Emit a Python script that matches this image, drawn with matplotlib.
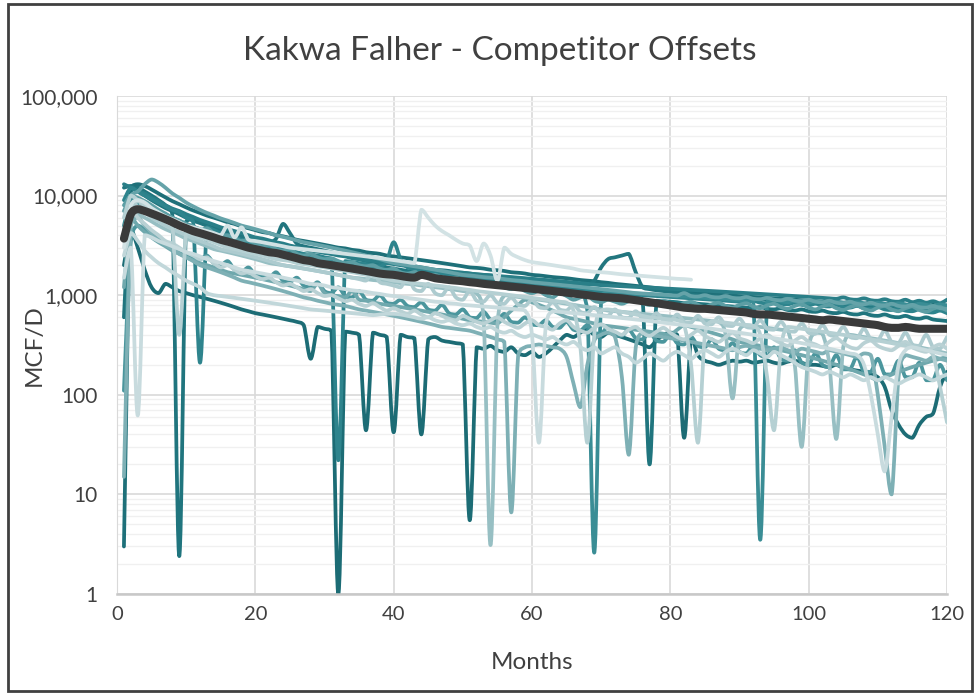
import matplotlib.pyplot as plt
import numpy as np
from matplotlib.ticker import FuncFormatter, LogLocator, MultipleLocator
from matplotlib.patches import Rectangle, PathPatch
from matplotlib.path import Path

# === Monthly gas rates (MCF/D), month 1 onwards ===
well_01 = [3, 12000, 13000, 12500, 11500, 10500, 9600, 8800, 8200, 7600,
           7100, 6700, 6300, 6000, 5700, 5400, 5200, 4900, 4700, 4500,
           4300, 4200, 4000, 3900, 3750, 3600, 3500, 3400, 3300, 3200,
           3100, 3000, 2950, 2850, 2800, 2700, 2650, 2600, 2500, 2450,
           2400, 2350, 2300, 2250, 2200, 2150, 2100, 2050, 2000, 1950,
           1900, 1880, 1850, 1800, 1780, 1750, 1700, 1680, 1650, 1600,
           1580, 1550, 1520, 1500, 1480, 1450, 1420, 1400, 1380, 1350,
           1330, 1300, 1280, 1260, 1240, 1220, 1200, 1180, 1160, 1140,
           1120, 1100, 1080, 1060, 1050, 1040, 1020, 1000, 990, 980,
           970, 960, 950, 940, 930, 920, 910, 900, 890, 880,
           870, 860, 900, 850, 840, 860, 830, 820, 850, 810,
           800, 830, 790, 780, 820, 770, 760, 800, 750, 740]
well_02 = [600, 11000, 12000, 11000, 10000, 9000, 8000, 6500, 2.4, 5500,
           5800, 5400, 5000, 4700, 4500, 4300, 4100, 3900, 3700, 3600,
           3500, 3400, 3300, 3200, 3100, 3000, 2900, 2800, 2750, 2700,
           2600, 2550, 2500, 2400, 2300, 2200, 2100, 2000, 1900, 1850,
           1800, 1750, 1700, 1650, 1600, 1550, 1500, 1480, 1450, 1420,
           1400, 1380, 1350, 1330, 1300, 1280, 1260, 1240, 1220, 1200,
           1180, 1160, 1140, 1120, 1100, 1080, 1060, 1040, 1020, 1000,
           990, 980, 970, 960, 950, 900, 20, 880, 870, 860,
           850, 830, 840, 820, 810, 800, 790, 780, 770, 760,
           750, 740, 760, 730, 720, 740, 710, 700, 720, 690,
           680, 700, 670, 660, 680, 650, 640, 660, 630, 620,
           640, 610, 600, 620, 590, 580, 600, 570, 560, 550]
well_03 = [2000, 4500, 3000, 1800, 1200, 1050, 1300, 1200, 1100, 1050,
           1000, 960, 920, 880, 840, 800, 760, 720, 690, 660,
           640, 620, 600, 580, 560, 540, 500, 230, 480, 460,
           440, 1, 430, 420, 400, 44, 420, 400, 380, 42,
           400, 380, 370, 40, 360, 380, 350, 340, 330, 320,
           5.5, 300, 290, 310, 280, 270, 300, 260, 250, 270,
           240, 260, 300, 350, 400, 380, 420, 450, 400, 380,
           420, 400, 380, 360, 340, 320, 300, 350, 400, 420,
           400, 37, 380, 250, 220, 210, 200, 210, 220, 215,
           220, 210, 215, 220, 210, 205, 215, 220, 210, 200,
           200, 195, 190, 200, 185, 180, 175, 170, 160, 150,
           120, 70, 50, 40, 37, 50, 60, 65, 120, 170]
well_04 = [9000, 12000, 11000, 10000, 9200, 8500, 7800, 7200, 6800, 6000,
           5500, 210, 4800, 4500, 4200, 4000, 3800, 3600, 3400, 3300,
           3200, 3100, 3000, 2900, 2800, 2700, 2600, 2550, 2500, 2400,
           2300, 22, 2200, 2150, 2100, 2050, 2000, 1950, 2200, 3400,
           2300, 1900, 1850, 1800, 1750, 1700, 1650, 1600, 1580, 1550,
           1500, 1480, 1450, 1420, 1400, 1380, 1350, 1330, 1300, 1280,
           1260, 1240, 1220, 1200, 1180, 1160, 1140, 1120, 1100, 1080,
           1060, 1050, 1040, 1030, 1020, 1000, 990, 980, 970, 960,
           950, 940, 930, 920, 910, 900, 890, 880, 870, 860,
           850, 880, 840, 830, 860, 820, 810, 840, 800, 790,
           820, 780, 770, 800, 760, 750, 780, 740, 730, 760,
           720, 710, 740, 700, 690, 720, 680, 670, 700, 660]
well_05 = [5000, 9000, 8500, 8000, 7500, 7000, 6500, 6000, 5600, 5200,
           4900, 4600, 4400, 4200, 4000, 3800, 3600, 3450, 3300, 3150,
           3000, 2900, 2800, 2700, 2600, 2500, 2450, 2350, 2300, 2200,
           2150, 2100, 2050, 2000, 1950, 1900, 1850, 1800, 1750, 1700,
           1650, 1600, 1580, 1550, 1520, 1500, 1480, 1450, 1420, 1400,
           1380, 1360, 1340, 1320, 1300, 1280, 1260, 1240, 1220, 1200,
           1180, 1160, 1140, 1120, 1100, 1080, 1060, 700, 2.6, 900,
           1100, 1080, 1060, 1050, 1040, 1030, 1020, 1010, 1000, 990,
           980, 970, 960, 950, 940, 930, 920, 910, 900, 890,
           880, 870, 3.5, 860, 900, 870, 850, 880, 860, 840,
           870, 850, 830, 860, 840, 820, 850, 830, 810, 840,
           820, 800, 830, 810, 790, 820, 800, 780, 810, 790]
well_06 = [15, 5000, 6000, 5000, 4200, 3600, 3200, 2900, 2600, 2400,
           2200, 2000, 1900, 1800, 1700, 1600, 1500, 1400, 1350, 1300,
           1250, 1200, 1150, 1100, 1050, 1000, 950, 920, 880, 850,
           820, 800, 780, 750, 720, 700, 680, 660, 640, 620,
           600, 580, 560, 540, 520, 500, 480, 470, 460, 450,
           440, 420, 400, 380, 360, 340, 6.6, 250, 300, 310,
           320, 310, 300, 290, 240, 130, 75, 200, 350, 400,
           420, 380, 150, 25, 300, 420, 400, 390, 380, 370,
           360, 350, 340, 330, 320, 310, 300, 290, 280, 300,
           310, 300, 290, 280, 290, 300, 280, 270, 290, 280,
           270, 260, 280, 270, 260, 250, 240, 260, 250, 100,
           30, 10, 150, 250, 240, 230, 220, 240, 230, 220]
well_07 = [1500, 3000, 62, 4000, 3800, 3500, 3300, 3100, 2900, 2700,
           2600, 2450, 2300, 2200, 2100, 2000, 1900, 1800, 1750, 1700,
           1650, 1600, 1550, 1500, 1450, 1400, 1350, 1300, 1280, 1250,
           1200, 1180, 1150, 1120, 1100, 1080, 1050, 1030, 1000, 980,
           960, 940, 920, 900, 880, 860, 850, 830, 820, 800,
           790, 780, 770, 760, 750, 740, 730, 720, 700, 400,
           33, 500, 690, 680, 670, 660, 650, 640, 630, 620,
           610, 600, 590, 580, 570, 560, 550, 540, 530, 520,
           510, 500, 490, 480, 470, 460, 450, 440, 430, 420,
           410, 400, 390, 380, 370, 360, 350, 340, 330, 320,
           310, 300, 290, 280, 270, 260, 250, 200, 100, 40,
           17, 60, 200, 280, 300, 290, 280, 270, 260, 250]
well_08 = [6000, 10000, 9000, 8000, 7000, 6200, 5500, 5000, 400, 4300,
           4000, 3800, 3600, 3400, 3200, 3000, 2900, 2800, 2700, 2600,
           2500, 2400, 2300, 2250, 2200, 2100, 2050, 2000, 1950, 1900,
           1850, 1800, 1750, 1700, 1650, 1600, 1550, 1500, 1450, 1400,
           1380, 1350, 1320, 1300, 1280, 1250, 1230, 1200, 1180, 1150,
           1130, 1100, 1080, 1060, 1040, 1020, 1000, 980, 960, 940,
           920, 900, 880, 860, 840, 700, 300, 33, 400, 700,
           720, 700, 680, 660, 640, 620, 600, 590, 580, 570,
           560, 500, 200, 33, 400, 550, 540, 530, 520, 510,
           500, 490, 400, 150, 44, 300, 480, 470, 460, 450,
           440, 430, 420, 410, 400, 390, 380, 370, 360, 350,
           340, 330, 320, 310, 300, 290, 280, 250, 120, 53]
well_09 = [4000, 7000, 6500, 6000, 5500, 5000, 4600, 4300, 4000, 3700,
           3500, 3300, 3100, 2900, 2800, 2700, 2600, 2500, 2400, 2300,
           2200, 2100, 2050, 2000, 1950, 1900, 1850, 1800, 1750, 1700,
           1650, 1600, 1550, 1500, 1480, 1450, 1420, 1400, 1380, 1350,
           1320, 1300, 1280, 1250, 1230, 1200, 1180, 1150, 1130, 1100,
           1080, 1050, 600, 3.1, 500, 1000, 980, 960, 940, 920,
           900, 880, 860, 840, 820, 800, 780, 760, 740, 720,
           700, 690, 680, 670, 660, 650, 640, 630, 620, 610,
           600, 590, 580, 570, 560, 550, 540, 400, 92, 450,
           500, 490, 480, 470, 460, 450, 440, 200, 30, 300,
           420, 410, 200, 36, 300, 400, 390, 380, 370, 360,
           350, 340, 330, 320, 310, 300, 290, 280, 270, 260]
well_10 = [3000, 8000, 9000, 8500, 7500, 6800, 6200, 5800, 5400, 5000,
           4800, 4600, 4400, 4200, 4000, 5000, 3800, 4800, 3600, 3500,
           3400, 3300, 3200, 3100, 3000, 2950, 2900, 2850, 2800, 2750,
           2700, 2650, 2600, 2550, 2500, 2450, 2400, 2350, 2300, 2250,
           2200, 2150, 2100, 7200, 6000, 5000, 4400, 4000, 3600, 3300,
           3150, 2200, 3300, 2500, 1400, 3000, 2600, 2400, 2250, 2150,
           2100, 2050, 2000, 1950, 1900, 1850, 1780, 1750, 1720, 1700,
           1680, 1650, 1620, 1600, 1580, 1560, 1540, 1520, 1500, 1480,
           1460, 1450, 1430]
well_11 = [12000, 12500, 11000, 10000, 9000, 8200, 7500, 7000, 6500, 6000,
           5600, 5300, 5000, 4700, 4500, 4300, 4100, 3900, 3800, 3650,
           3500, 3400, 3700, 5200, 4200, 3300, 3100, 3000, 2900, 2800,
           2700, 2600, 2500, 2450, 2400, 2300, 2250, 2200, 2150, 2100,
           2050, 2000, 1950, 1900, 1850, 1800, 1780, 1750, 1700, 1680,
           1650, 1620, 1600, 1580, 1550, 1520, 1500, 1480, 1460, 1440,
           1420, 1400, 1380, 1360, 1340, 1320, 1300, 1280, 1400, 1900,
           2300, 2400, 2500, 2600, 1700, 1200, 1150, 1120, 1100, 1080,
           1060, 1040, 1020, 1000, 990, 980, 970, 960, 950, 940,
           930, 920, 910, 900, 890, 880, 870, 860, 850, 840,
           860, 830, 820, 850, 810, 800, 830, 790, 780, 810,
           770, 760, 790, 750, 740, 770, 730, 720, 750, 710]
well_12 = [7000, 10000, 11000, 13000, 14500, 13500, 12000, 10500, 9500, 8500,
           7800, 7200, 6700, 6300, 5900, 5600, 5300, 5000, 4800, 4600,
           4400, 4200, 4000, 3850, 3700, 3550, 3400, 3300, 3200, 3100,
           3000, 2900, 2800, 2700, 2600, 2500, 2400, 2300, 2200, 2100,
           2050, 2000, 1950, 1900, 1850, 1800, 1750, 1700, 1650, 1600,
           1580, 1550, 1520, 1500, 1480, 1450, 1420, 1400, 1380, 1350,
           1330, 1310, 1290, 1270, 1250, 1230, 1210, 1190, 1170, 1150,
           1130, 1110, 1090, 1070, 1050, 1040, 1030, 1020, 1010, 1000,
           990, 1050, 980, 970, 1000, 960, 950, 980, 940, 930,
           960, 920, 910, 940, 900, 890, 920, 880, 870, 900,
           860, 850, 880, 840, 830, 860, 820, 810, 840, 800,
           790, 820, 780, 770, 800, 760, 750, 780, 740, 730]
well_13 = [110, 3500, 5000, 4500, 4000, 3600, 3300, 3000, 2800, 2600,
           2400, 2300, 2500, 2100, 2000, 2200, 1800, 1700, 1900, 1600,
           1550, 1500, 1700, 1400, 1350, 1500, 1250, 1200, 1350, 1100,
           1050, 1200, 980, 950, 1100, 900, 880, 1000, 840, 820,
           900, 780, 760, 850, 720, 700, 800, 660, 640, 720,
           600, 590, 680, 570, 560, 650, 540, 530, 600, 510,
           500, 560, 480, 470, 540, 450, 440, 500, 420, 410,
           480, 400, 390, 450, 370, 360, 420, 350, 340, 400,
           330, 320, 380, 310, 300, 360, 290, 280, 330, 270,
           260, 310, 250, 240, 300, 230, 220, 280, 210, 200,
           260, 200, 190, 250, 180, 180, 240, 170, 170, 230,
           160, 160, 220, 150, 150, 210, 140, 140, 200, 140]
well_14 = [2500, 4200, 3500, 2800, 2400, 2100, 1900, 1700, 1550, 1400,
           1300, 1200, 1050, 1000, 980, 960, 940, 920, 900, 880,
           860, 840, 820, 800, 780, 760, 740, 720, 710, 700,
           690, 680, 670, 660, 650, 640, 630, 640, 650, 650,
           640, 620, 600, 580, 600, 560, 540, 560, 520, 500,
           520, 480, 460, 480, 440, 420, 440, 400, 380, 400,
           380, 360, 380, 340, 320, 340, 300, 280, 300, 260,
           280, 300, 260, 240, 210, 230, 260, 240, 220, 250,
           270, 250, 230, 260, 280, 260, 240, 270, 290, 270,
           250, 280, 260, 240, 270, 250, 230, 210, 190, 180,
           170, 160, 170, 160, 150, 160, 150, 140, 150, 140,
           150, 140, 130, 140, 150, 160, 150, 140, 150, 160]
well_15 = [3500, 6000, 9000, 7000, 6000, 5500, 5000, 4600, 4300, 4000,
           3700, 3500, 3300, 3100, 2900, 2800, 2700, 2600, 2500, 2400,
           2300, 2200, 2100, 2000, 1950, 1900, 1850, 1800, 1750, 1700,
           1650, 1600, 1550, 1500, 1450, 1400, 1700, 1350, 1300, 1250,
           1200, 1500, 1150, 1100, 1300, 1050, 1000, 1200, 950, 900,
           1100, 880, 860, 1000, 840, 820, 950, 800, 780, 900,
           760, 740, 850, 720, 700, 800, 680, 660, 760, 640,
           620, 720, 600, 590, 690, 580, 570, 660, 560, 550,
           640, 540, 530, 620, 520, 510, 600, 500, 490, 580,
           480, 470, 560, 460, 450, 540, 440, 430, 520, 420,
           410, 500, 400, 390, 480, 380, 370, 460, 360, 350,
           440, 340, 330, 420, 320, 310, 400, 300, 290, 380]
well_16 = [13000, 12000, 11000, 10500, 9500, 8800, 8000, 7400, 7000, 6500,
           6100, 5700, 5400, 5100, 4800, 4600, 4400, 4200, 4000, 3800,
           3700, 3550, 3400, 3300, 3150, 3050, 2950, 2850, 2750, 2650,
           2600, 2500, 2450, 2350, 2300, 2250, 2200, 2150, 2100, 2050,
           2000, 1950, 1900, 1850, 1800, 1780, 1750, 1720, 1700, 1680,
           1650, 1620, 1600, 1580, 1560, 1540, 1520, 1500, 1480, 1460,
           1440, 1420, 1400, 1380, 1360, 1340, 1320, 1300, 1280, 1260,
           1250, 1240, 1230, 1220, 1210, 1200, 1190, 1180, 1170, 1160,
           1150, 1140, 1130, 1120, 1110, 1100, 1090, 1080, 1070, 1060,
           1050, 1040, 1030, 1020, 1010, 1000, 990, 980, 970, 960,
           950, 940, 930, 920, 950, 910, 900, 930, 890, 880,
           910, 870, 860, 900, 850, 880, 840, 870, 830, 900]
well_17 = [1200, 6000, 5000, 4300, 3800, 3400, 3100, 2800, 2600, 2400,
           2250, 2100, 2000, 1900, 1800, 1700, 1650, 1600, 1550, 1500,
           1450, 1400, 1350, 1300, 1250, 1200, 1150, 1100, 1300, 1050,
           1000, 980, 950, 1100, 900, 880, 850, 820, 800, 780,
           760, 740, 720, 700, 680, 660, 640, 620, 600, 580,
           560, 550, 540, 530, 520, 600, 700, 800, 900, 850,
           800, 750, 700, 650, 600, 580, 560, 540, 520, 500,
           490, 480, 470, 460, 450, 440, 430, 420, 410, 400,
           450, 500, 480, 460, 440, 420, 400, 380, 360, 340,
           330, 320, 310, 300, 290, 280, 270, 260, 250, 240,
           230, 220, 210, 200, 190, 180, 170, 160, 150, 140,
           150, 160, 170, 180, 190, 200, 210, 220, 230, 240]
well_18 = [4500, 7500, 6000, 5200, 4500, 4000, 3500, 3300, 3000, 2700,
           2500, 2300, 2400, 2100, 1900, 2000, 1800, 1650, 1700, 1550,
           1450, 1500, 1350, 1250, 1300, 1200, 1100, 1150, 1050, 980,
           1000, 930, 870, 900, 820, 780, 830, 760, 700, 740,
           690, 650, 700, 640, 600, 660, 620, 580, 560, 620,
           580, 540, 520, 560, 600, 540, 500, 470, 520, 560,
           500, 480, 450, 520, 560, 480, 440, 420, 470, 510,
           460, 430, 400, 450, 480, 420, 390, 430, 470, 420,
           380, 360, 400, 440, 390, 360, 340, 380, 420, 370,
           350, 330, 370, 400, 360, 330, 310, 350, 380, 340,
           320, 300, 340, 370, 330, 300, 290, 330, 350, 310,
           290, 280, 310, 340, 300, 280, 270, 300, 320, 290]
well_19 = [8000, 10000, 9500, 8800, 8000, 7200, 6600, 6000, 5600, 5200,
           4900, 4500, 4700, 4200, 3900, 4000, 3700, 3500, 3600, 3300,
           3100, 3200, 2900, 2800, 2900, 2600, 2500, 2600, 2400, 2300,
           2350, 2200, 2100, 2150, 2000, 1950, 2000, 1850, 1800, 1850,
           1700, 1650, 1700, 1600, 1550, 1600, 1500, 1450, 1500, 1400,
           1350, 1400, 1300, 1250, 1300, 1200, 1150, 1200, 1100, 1050,
           1100, 1000, 950, 1050, 980, 900, 950, 1000, 880, 850,
           900, 860, 820, 870, 900, 830, 800, 850, 880, 820,
           780, 830, 860, 800, 760, 810, 840, 780, 750, 800,
           830, 770, 740, 790, 820, 760, 730, 780, 810, 750,
           720, 770, 800, 740, 710, 760, 790, 730, 700, 750,
           780, 720, 690, 740, 770, 710, 680, 730, 760, 700]

# average type curve of the offsets
avg_curve = [3700, 6500, 7300, 7000, 6600, 6200, 5800, 5400, 5000, 4700,
             4400, 4200, 4000, 3800, 3600, 3450, 3300, 3150, 3000, 2900,
             2800, 2700, 2650, 2550, 2450, 2350, 2250, 2200, 2100, 2050,
             2000, 1950, 1900, 1850, 1800, 1750, 1700, 1650, 1620, 1600,
             1560, 1520, 1500, 1600, 1550, 1480, 1450, 1420, 1400, 1380,
             1350, 1330, 1300, 1280, 1260, 1240, 1220, 1200, 1180, 1160,
             1140, 1120, 1100, 1080, 1060, 1040, 1020, 1000, 980, 960,
             950, 940, 930, 910, 890, 870, 850, 830, 810, 790,
             770, 750, 740, 730, 730, 720, 710, 700, 690, 680,
             670, 650, 640, 640, 630, 620, 610, 600, 590, 580,
             570, 560, 570, 560, 550, 540, 530, 520, 510, 500,
             480, 470, 470, 480, 470, 460, 460, 460, 460, 460]

wells = [well_03, well_02, well_01, well_11, well_16, well_04, well_05, well_13, well_19,
         well_12, well_17, well_06, well_09, well_15, well_18, well_08, well_14, well_07, well_10]
well_colors = ['#1c6c75', '#20757e', '#1e7079', '#22767f', '#2a7f88', '#2e848d', '#3a8d95', '#4b969d',
               '#5c9ea4', '#65a3a9', '#6fa8ad', '#7eb0b5', '#97bfc3', '#adcbcf', '#b9d1d4',
               '#b5d0d3', '#c1d7da', '#c8dbde', '#d2e2e4']


def smooth_path(yvals):
    # smoothed line through every point (bezier in log space, no overshoot)
    x = np.arange(1, len(yvals) + 1, dtype=float)
    y = np.log10(np.asarray(yvals, dtype=float))
    n = len(x)
    verts = [(x[0], y[0])]
    codes = [Path.MOVETO]
    for i in range(n - 1):
        a = max(i - 1, 0)
        b = min(i + 2, n - 1)
        lo, hi = min(y[i], y[i + 1]), max(y[i], y[i + 1])
        c1 = np.clip(y[i] + (y[i + 1] - y[a]) / 6, lo, hi)
        c2 = np.clip(y[i + 1] - (y[b] - y[i]) / 6, lo, hi)
        verts.append((x[i] + (x[i + 1] - x[a]) / 6, c1))
        verts.append((x[i + 1] - (x[b] - x[i]) / 6, c2))
        verts.append((x[i + 1], y[i + 1]))
        codes += [Path.CURVE4] * 3
    verts = np.array(verts)
    verts[:, 1] = 10 ** verts[:, 1]
    return Path(verts, codes)


fig = plt.figure(figsize=(9.8, 6.94), dpi=100)
fig.patches.append(Rectangle((0.008, 0.004), 0.984, 0.99, transform=fig.transFigure,
                             fill=False, edgecolor='#404040', linewidth=2))
ax = fig.add_axes([0.1194, 0.1441, 0.8469, 0.7176])

for vals, col in zip(wells, well_colors):
    ax.add_patch(PathPatch(smooth_path(vals), fill=False, edgecolor=col, lw=2.7,
                           joinstyle='round', capstyle='round'))

ax.add_patch(PathPatch(smooth_path(avg_curve), fill=False, edgecolor='#3a3a3a', lw=5.8,
                       joinstyle='round', capstyle='round'))

ax.set_yscale('log')
ax.set_ylim(1, 100000)
ax.set_xlim(0, 120)
ax.xaxis.set_major_locator(MultipleLocator(20))
ax.yaxis.set_major_locator(LogLocator(base=10, numticks=10))
ax.yaxis.set_minor_locator(LogLocator(base=10, subs=np.arange(2, 10), numticks=20))
ax.yaxis.set_major_formatter(FuncFormatter(lambda v, p: f'{v:,.0f}'))
ax.yaxis.set_minor_formatter(FuncFormatter(lambda v, p: ''))

ax.grid(True, which='major', color='#d9d9d9', lw=1.2)
ax.grid(True, which='minor', axis='y', color='#f0f0f0', lw=1.0)
ax.set_axisbelow(True)
for s in ['top', 'right']:
    ax.spines[s].set_visible(False)
ax.spines['left'].set_color('#d9d9d9')
ax.spines['bottom'].set_color('#c8c8c8')
ax.spines['bottom'].set_linewidth(1.8)
ax.tick_params(axis='y', which='both', length=0, labelsize=15, labelcolor='#404040', pad=14)
ax.tick_params(axis='x', which='both', length=0, labelsize=14.5, labelcolor='#404040', pad=9)

for lbl in ax.get_xticklabels() + ax.get_yticklabels():
    lbl.set_family('Lato')

ax.set_xlabel('Months', fontsize=17.5, color='#404040', family='Lato')
ax.set_ylabel('MCF/D', fontsize=17.5, color='#404040', family='Lato')
ax.xaxis.set_label_coords(0.5, -0.116)
ax.yaxis.set_label_coords(-0.087, 0.5)
fig.text(0.51, 0.926, 'Kakwa Falher - Competitor Offsets', fontsize=24, color='#404040',
         family='Lato', ha='center', va='center')

fig.savefig('out.png', dpi=100)
